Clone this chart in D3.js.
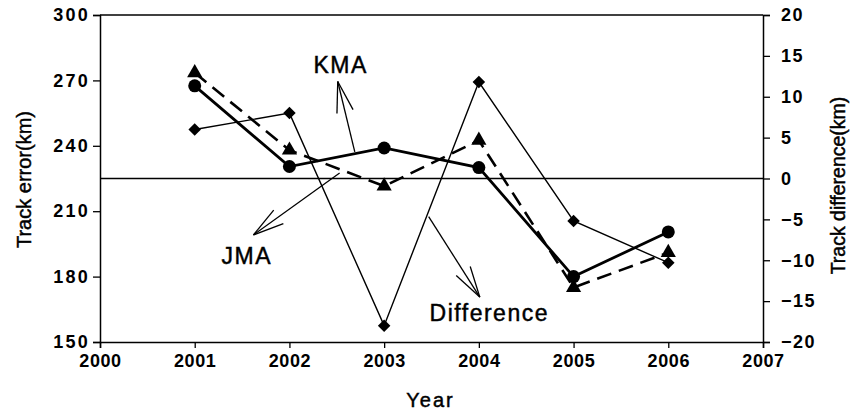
<!DOCTYPE html>
<html><head><meta charset="utf-8">
<script src="https://cdn.jsdelivr.net/npm/d3@7/dist/d3.min.js"></script>
<style>body{margin:0;background:#fff}svg{display:block}text{font-family:"Liberation Sans",Arial,sans-serif;fill:#000}</style>
</head><body><svg id="c" width="850" height="418"></svg>
<script>
const years = [2001, 2002, 2003, 2004, 2005, 2006];
const jma = [267.5, 230.5, 239, 230, 180, 200.5];
const kma = [273.5, 238, 221.5, 242.5, 175, 191];
const diff = [6, 8, -18, 11.8, -5.2, -10.3];
const xTicks = [2000, 2001, 2002, 2003, 2004, 2005, 2006, 2007];
const yLeftTicks = [150, 180, 210, 240, 270, 300];
const yRightTicks = [-20, -15, -10, -5, 0, 5, 10, 15, 20];
// annotations in data coordinates (year, left-axis value)
const labels = [
  {text: "KMA", x: 2002.54, y: 273.4},
  {text: "JMA", x: 2001.55, y: 185.8},
  {text: "Difference", x: 2004.11, y: 159.5}
];
const arrows = [
  {x1: 2002.69, y1: 237.2, x2: 2002.51, y2: 269.5},
  {x1: 2002.53, y1: 227.5, x2: 2001.62, y2: 199.1},
  {x1: 2003.47, y1: 207.5, x2: 2004.01, y2: 170.6}
];

const svg = d3.select("#c");
const L = 100, R = 763, T = 15, B = 342;
const x = d3.scaleLinear().domain([2000, 2007]).range([L, R]);
const yl = d3.scaleLinear().domain([150, 300]).range([B, T]);
const yr = d3.scaleLinear().domain([-20, 20]).range([B, T]);

// frame top line
svg.append("line").attr("x1", L).attr("x2", R).attr("y1", T).attr("y2", T).attr("stroke", "#000").attr("stroke-width", 1.5);

const ax = svg.append("g").attr("transform", `translate(0,${B})`)
  .call(d3.axisBottom(x).tickValues(xTicks).tickFormat(d3.format("d")).tickSize(6).tickPadding(6));
const ayl = svg.append("g").attr("transform", `translate(${L},0)`)
  .call(d3.axisLeft(yl).tickValues(yLeftTicks).tickSize(7).tickPadding(3));
const ayr = svg.append("g").attr("transform", `translate(${R},0)`)
  .call(d3.axisRight(yr).tickValues(yRightTicks).tickSize(7).tickPadding(11));
[ax, ayl, ayr].forEach(g => {
  g.select(".domain").attr("stroke-width", 1.5);
  g.selectAll(".tick line").attr("stroke-width", 1.3);
  g.selectAll("text").attr("font-size", 18).attr("font-weight", "bold")
    .attr("font-family", '"Liberation Sans",Arial,sans-serif');
});
ayl.selectAll("text").attr("letter-spacing", 2.2);
ayr.selectAll("text").attr("letter-spacing", 1.5);
ax.selectAll("text").attr("letter-spacing", 0.6);

// zero line of right axis
svg.append("line").attr("x1", L).attr("x2", R).attr("y1", yr(0)).attr("y2", yr(0))
  .attr("stroke", "#000").attr("stroke-width", 1.6);

// titles
const heavy = s => s.attr("stroke", "#000").attr("stroke-width", 0.45);
heavy(svg.append("text").attr("transform", `translate(31,${(T + B) / 2 + 1}) rotate(-90)`)
  .attr("text-anchor", "middle").attr("font-size", 20).text("Track error(km)"));
heavy(svg.append("text").attr("transform", `translate(845,${(T + B) / 2 + 7}) rotate(-90)`)
  .attr("text-anchor", "middle").attr("font-size", 19.5).text("Track difference(km)"));
heavy(svg.append("text").attr("x", (L + R) / 2 - 1).attr("y", 407).attr("text-anchor", "middle")
  .attr("font-size", 20).attr("letter-spacing", 2).text("Year"));

// Difference series (right axis)
const dPts = years.map((yv, i) => [x(yv), yr(diff[i])]);
svg.append("path").attr("d", d3.line()(dPts)).attr("fill", "none").attr("stroke", "#000").attr("stroke-width", 1.4);
// KMA series
const kPts = years.map((yv, i) => [x(yv), yl(kma[i])]);
svg.append("path").attr("d", d3.line()(kPts)).attr("fill", "none").attr("stroke", "#000")
  .attr("stroke-width", 2.6).attr("stroke-dasharray", "15,8");
// JMA series
const jPts = years.map((yv, i) => [x(yv), yl(jma[i])]);
svg.append("path").attr("d", d3.line()(jPts)).attr("fill", "none").attr("stroke", "#000").attr("stroke-width", 2.8);

// markers
svg.selectAll(".dm").data(dPts).join("path").attr("class", "dm")
  .attr("transform", d => `translate(${d[0]},${d[1]})`)
  .attr("d", d3.symbol(d3.symbolDiamond2, 100)()).attr("fill", "#000");
svg.selectAll(".km").data(kPts).join("path").attr("class", "km")
  .attr("transform", d => `translate(${d[0]},${d[1]})`)
  .attr("d", d3.symbol(d3.symbolTriangle, 100)()).attr("fill", "#000");
svg.selectAll(".jm").data(jPts).join("circle").attr("class", "jm")
  .attr("cx", d => d[0]).attr("cy", d => d[1]).attr("r", 6.5).attr("fill", "#000");

// arrows
arrows.forEach(a => {
  const x1 = x(a.x1), y1 = yl(a.y1), x2 = x(a.x2), y2 = yl(a.y2);
  const ang = Math.atan2(y1 - y2, x1 - x2);
  const len = 32, h = 15 * Math.PI / 180;
  const g = svg.append("g").attr("stroke", "#000").attr("stroke-width", 1.3).attr("fill", "none");
  g.append("line").attr("x1", x1).attr("y1", y1).attr("x2", x2).attr("y2", y2);
  [ang - h, ang + h].forEach(t => {
    g.append("line").attr("x1", x2).attr("y1", y2)
      .attr("x2", x2 + len * Math.cos(t)).attr("y2", y2 + len * Math.sin(t));
  });
});
labels.forEach(l => {
  heavy(svg.append("text").attr("x", x(l.x)).attr("y", yl(l.y)).attr("text-anchor", "middle")
    .attr("font-size", 23).attr("letter-spacing", 1.5).text(l.text));
});
</script></body></html>
